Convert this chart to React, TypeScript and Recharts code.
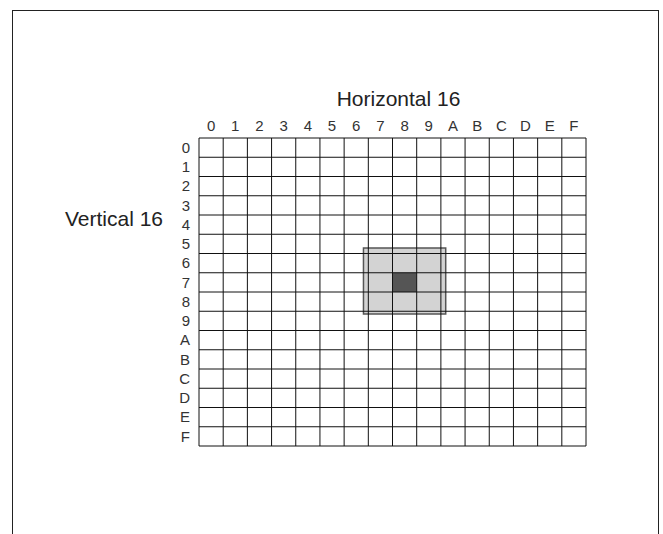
import { ComposedChart, XAxis, YAxis, ReferenceLine, ReferenceArea, Label } from 'recharts';

// 16 x 16 hex grid, one 3x3 block highlighted around a dark center cell
const HEX_LABELS = ['0', '1', '2', '3', '4', '5', '6', '7', '8', '9', 'A', 'B', 'C', 'D', 'E', 'F'];
const TICK_POSITIONS = [0.5, 1.5, 2.5, 3.5, 4.5, 5.5, 6.5, 7.5, 8.5, 9.5, 10.5, 11.5, 12.5, 13.5, 14.5, 15.5];
const GRID_LINES = [0, 1, 2, 3, 4, 5, 6, 7, 8, 9, 10, 11, 12, 13, 14, 15, 16];
const HIGHLIGHT_X = [6.8, 10.2];
const HIGHLIGHT_Y = [5.72, 9.14];
const CENTER_X = [8, 9];
const CENTER_Y = [7, 8];

const FONT = '"Liberation Sans", Arial, sans-serif';
const tickStyle = { fontSize: 15, fill: '#333', fontFamily: FONT };

// one row per column/row position so the axes have something to scale
const cells = TICK_POSITIONS.map((pos, i) => ({ pos, label: HEX_LABELS[i] }));

const hexLabel = (v: number) => HEX_LABELS[Math.floor(v)] ?? '';

function VerticalTitle(props: any) {
    const vb = props.viewBox;
    return (
        <text
            x={vb.x + vb.width - 36}
            y={vb.y + 88}
            textAnchor="end"
            fill="#222"
            fontSize={21}
            fontFamily={FONT}
        >
            Vertical 16
        </text>
    );
}

export default function App() {
    return (
        <div style={{ position: 'fixed', left: 0, top: 0, width: 663, height: 534, overflow: 'hidden', background: '#fff' }}>
            <div
                style={{
                    position: 'absolute',
                    left: 12,
                    top: 10,
                    width: 647,
                    height: 700,
                    boxSizing: 'border-box',
                    border: '1px solid #222',
                    borderBottom: 'none',
                }}
            />
            <div style={{ position: 'absolute', left: 0, top: 0 }}>
                <ComposedChart
                    width={663}
                    height={534}
                    data={cells}
                    margin={{ top: 0, right: 77, bottom: 88, left: 0 }}
                >
                    <XAxis
                        xAxisId="x"
                        dataKey="pos"
                        type="number"
                        orientation="top"
                        domain={[0, 16]}
                        ticks={TICK_POSITIONS}
                        tickFormatter={hexLabel}
                        interval={0}
                        height={138}
                        axisLine={false}
                        tickLine={false}
                        tickSize={0}
                        tickMargin={7}
                        tick={tickStyle}
                        allowDataOverflow
                    >
                        <Label
                            value="Horizontal 16"
                            position="insideBottom"
                            offset={32}
                            dx={6}
                            fill="#222"
                            fontSize={21}
                            fontFamily={FONT}
                        />
                    </XAxis>
                    <YAxis
                        yAxisId="y"
                        dataKey="pos"
                        type="number"
                        reversed
                        domain={[0, 16]}
                        ticks={TICK_POSITIONS}
                        tickFormatter={hexLabel}
                        interval={0}
                        width={199}
                        axisLine={false}
                        tickLine={false}
                        tickSize={0}
                        tickMargin={9}
                        tick={tickStyle}
                        allowDataOverflow
                    >
                        <Label content={<VerticalTitle />} />
                    </YAxis>

                    <ReferenceArea
                        xAxisId="x"
                        yAxisId="y"
                        x1={HIGHLIGHT_X[0]}
                        x2={HIGHLIGHT_X[1]}
                        y1={HIGHLIGHT_Y[0]}
                        y2={HIGHLIGHT_Y[1]}
                        fill="#d3d3d3"
                        fillOpacity={1}
                        stroke="#555"
                        strokeWidth={1.5}
                        ifOverflow="visible"
                    />
                    <ReferenceArea
                        xAxisId="x"
                        yAxisId="y"
                        x1={CENTER_X[0]}
                        x2={CENTER_X[1]}
                        y1={CENTER_Y[0]}
                        y2={CENTER_Y[1]}
                        fill="#555"
                        fillOpacity={1}
                        stroke="none"
                        ifOverflow="visible"
                    />

                    {GRID_LINES.map((v) => (
                        <ReferenceLine
                            key={`vx${v}`}
                            xAxisId="x"
                            yAxisId="y"
                            x={v}
                            stroke="#111"
                            strokeWidth={1}
                            ifOverflow="visible"
                        />
                    ))}
                    {GRID_LINES.map((v) => (
                        <ReferenceLine
                            key={`hy${v}`}
                            xAxisId="x"
                            yAxisId="y"
                            y={v}
                            stroke="#111"
                            strokeWidth={1}
                            ifOverflow="visible"
                        />
                    ))}
                </ComposedChart>
            </div>
        </div>
    );
}
